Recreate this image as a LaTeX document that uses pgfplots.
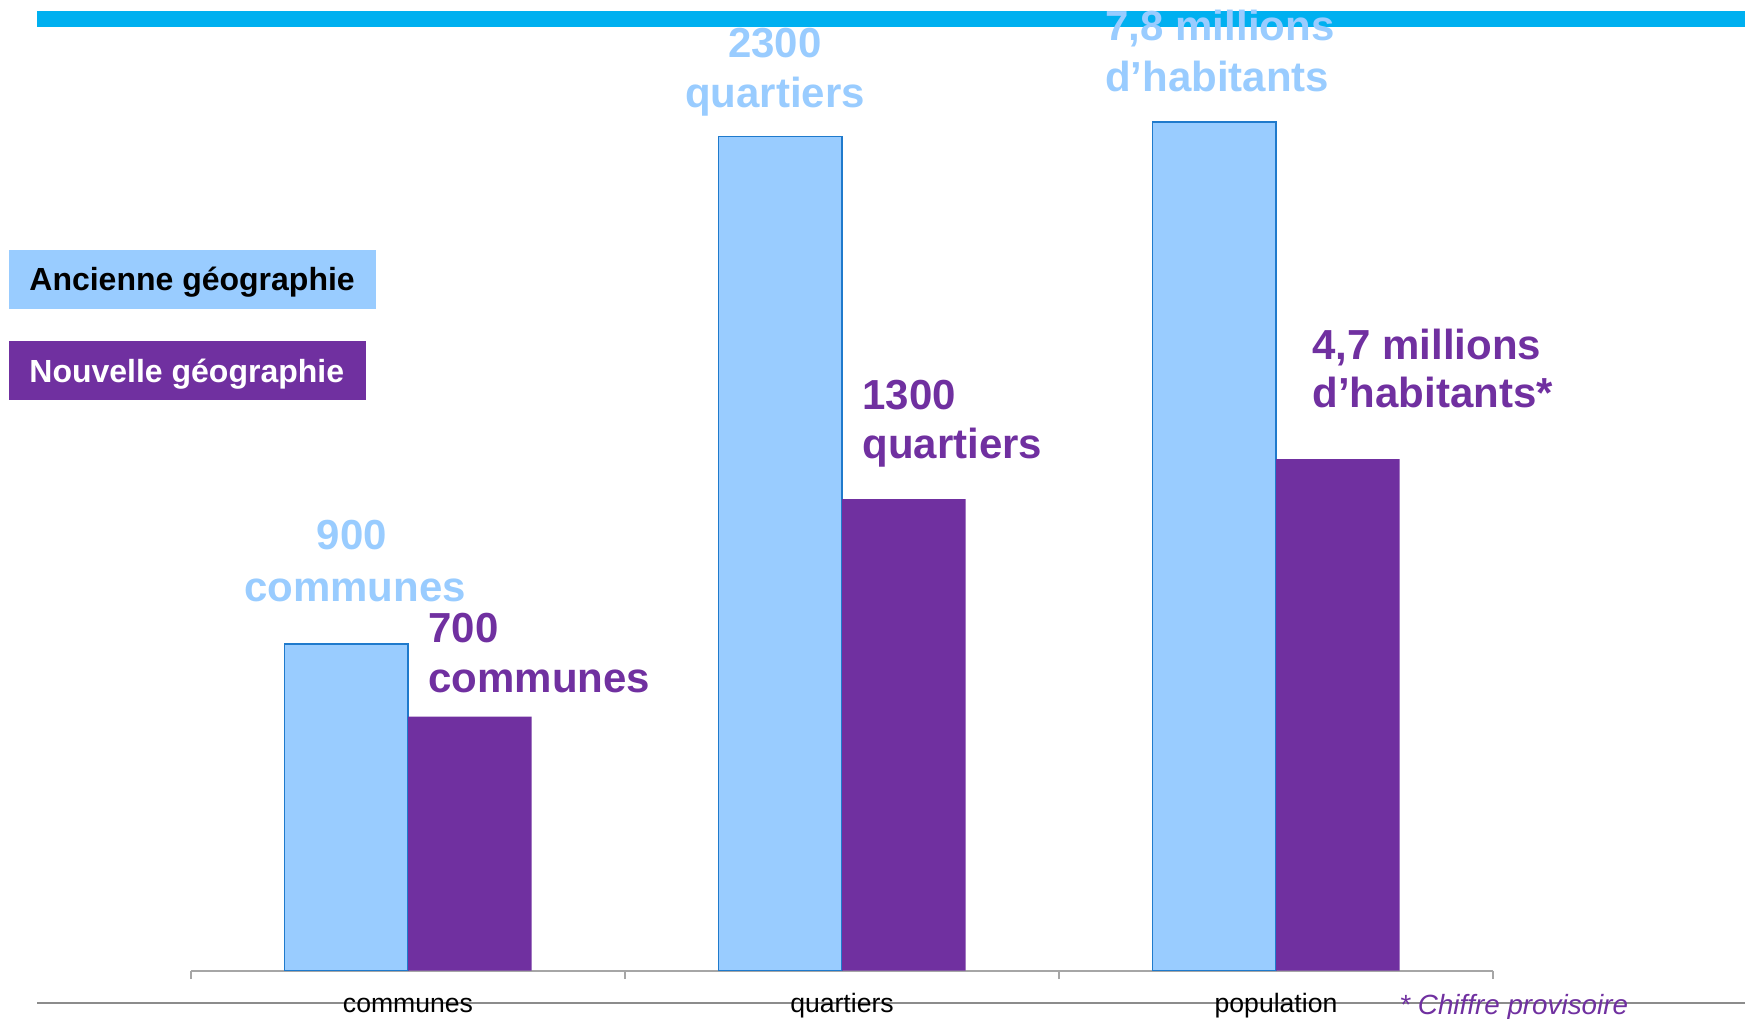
\documentclass[border=0pt]{standalone}
\usepackage{pgfplots}
\pgfplotsset{compat=1.18}
\usepackage{fontspec}
\setmainfont{Liberation Sans}
\definecolor{lightblue}{HTML}{99CCFF}
\definecolor{barline}{HTML}{1F7ACC}
\definecolor{violet}{HTML}{7030A0}
\definecolor{band}{HTML}{00B0F0}
\definecolor{axisgray}{HTML}{A6A6A6}
\definecolor{linegray}{HTML}{8C8C8C}
\newcommand\lbl{\fontsize{21}{25}\selectfont\bfseries}
\begin{document}
\begin{tikzpicture}[x=0.5pt,y=0.5pt]
\path[use as bounding box] (0,0) rectangle (1745,1018);
\fill[band] (37,991) rectangle (1745,1007);
\draw[linegray, line width=1.25pt] (37,15) -- (1745,15);
\begin{axis}[
  at={(95.5pt,23.75pt)}, anchor=south west,
  x=217pt, y=0.1813pt,
  xmin=-0.5, xmax=2.5, ymin=0, ymax=2600,
  axis x line=bottom, axis y line=none,
  axis line style={axisgray, line width=1pt, -},
  xtick={0,1,2}, xticklabels={communes,quartiers,population},
  major tick length=0pt,
  minor xtick={-0.5,0.5,1.5,2.5},
  minor tick length=4.25pt, tick align=outside,
  minor tick style={axisgray, line width=0.8pt},
  major tick style={draw=none},
  xticklabel style={anchor=base, yshift=-20.75pt, font=\fontsize{13.3}{16}\selectfont},
  ybar, bar width=0.285,
  clip=false,
]
\addplot[fill=lightblue, draw=barline, line width=0.8pt, bar shift=-0.1425] coordinates {(0,900) (1,2300) (2,2340)};
\addplot[fill=violet, draw=none, bar shift=0.1425] coordinates {(0,700) (1,1300) (2,1410)};
\end{axis}
% data labels
\begin{scope}[every node/.style={inner sep=0pt, text=lightblue, font=\lbl, anchor=base}]
\node at (352,468) {900};
\node at (355,416) {communes};
\node at (775,960) {2300};
\node at (775,910) {quartiers};
\node at (1220,977) {7,8 millions};
\node at (1217,926) {d’habitants};
\end{scope}
\begin{scope}[every node/.style={inner sep=0pt, text=violet, font=\lbl, anchor=base west}]
\node at (428,375) {700};
\node at (428,325) {communes};
\node at (862,608) {1300};
\node at (862,559) {quartiers};
\node at (1312,658) {4,7 millions};
\node at (1312,610) {d’habitants*};
\end{scope}
% legend boxes
\fill[lightblue] (9,709) rectangle (376,768);
\node[inner sep=0pt, anchor=base west, font=\fontsize{16}{19}\selectfont\bfseries, text=black] at (29,727) {Ancienne géographie};
\fill[violet] (9,618) rectangle (366,676.5);
\node[inner sep=0pt, anchor=base west, font=\fontsize{16}{19}\selectfont\bfseries, text=white] at (29,635) {Nouvelle géographie};
% footnote
\node[inner sep=0pt, anchor=base west, font=\fontsize{13.9}{16}\selectfont\itshape, text=violet] at (1399,4) {* Chiffre provisoire};
\end{tikzpicture}
\end{document}
